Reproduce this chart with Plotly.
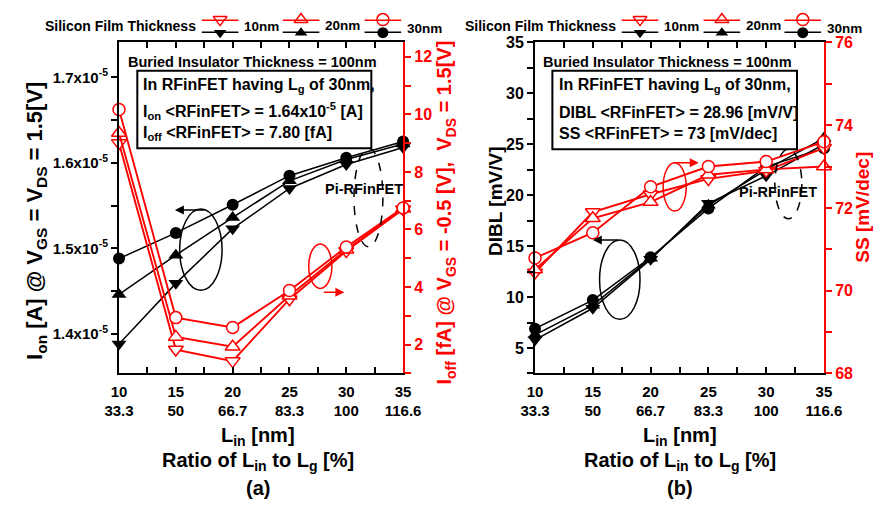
import plotly.graph_objects as go

W, H = 893, 513
FONT = "Liberation Sans, Arial, sans-serif"
RED = "#ff0000"

# ---- data -------------------------------------------------------------
l_in = [10, 15, 20, 25, 30, 35]                       # L_in [nm]
ratio_labels = ["33.3", "50", "66.7", "83.3", "100", "116.6"]  # L_in / L_g [%]

# (a) on-current [A] and off-current [fA]
ion_10nm = [1.388e-5, 1.459e-5, 1.523e-5, 1.570e-5, 1.598e-5, 1.618e-5]
ion_20nm = [1.446e-5, 1.492e-5, 1.536e-5, 1.579e-5, 1.604e-5, 1.622e-5]
ion_30nm = [1.488e-5, 1.518e-5, 1.551e-5, 1.585e-5, 1.606e-5, 1.625e-5]
ioff_10nm = [9.00, 1.83, 1.43, 3.58, 5.25, 6.70]
ioff_20nm = [9.35, 2.27, 1.93, 3.70, 5.30, 6.72]
ioff_30nm = [10.17, 2.94, 2.60, 3.88, 5.39, 6.75]

# (b) DIBL [mV/V] and subthreshold swing [mV/dec]
dibl_10nm = [5.8, 8.9, 13.7, 19.2, 21.9, 25.0]
dibl_20nm = [6.3, 9.2, 13.8, 19.0, 22.5, 25.6]
dibl_30nm = [6.9, 9.7, 13.9, 18.7, 22.8, 24.6]
ss_10nm = [70.44, 71.90, 72.33, 72.70, 72.90, 73.45]
ss_20nm = [70.51, 71.75, 72.14, 72.80, 72.93, 73.00]
ss_30nm = [70.79, 71.40, 72.51, 73.00, 73.12, 73.60]

thickness_labels = ["10nm", "20nm", "30nm"]
symbols = ["triangle-down", "triangle-up", "circle"]


def px(x):
    return x / W


def py(y):
    return 1 - y / H


fig = go.Figure()

series = [
    (ion_10nm, ioff_10nm, dibl_10nm, ss_10nm),
    (ion_20nm, ioff_20nm, dibl_20nm, ss_20nm),
    (ion_30nm, ioff_30nm, dibl_30nm, ss_30nm),
]

for (ion, ioff, dibl, ss), sym in zip(series, symbols):
    msize = 12 if sym == "circle" else 13
    black = dict(mode="lines+markers", line=dict(color="black", width=1.5),
                 marker=dict(symbol=sym, size=msize, color="black"),
                 cliponaxis=False, showlegend=False, hoverinfo="skip")
    red = dict(mode="lines+markers", line=dict(color=RED, width=1.9),
               marker=dict(symbol=sym, size=msize, color="white",
                           line=dict(color=RED, width=1.5)),
               cliponaxis=False, showlegend=False, hoverinfo="skip")
    fig.add_trace(go.Scatter(x=l_in, y=ion, xaxis="x", yaxis="y", **black))
    fig.add_trace(go.Scatter(x=l_in, y=ioff, xaxis="x", yaxis="y2", **red))
    fig.add_trace(go.Scatter(x=l_in, y=ss, xaxis="x2", yaxis="y4", **red))
    fig.add_trace(go.Scatter(x=l_in, y=dibl, xaxis="x2", yaxis="y3", **black))

# empty traces so the percentage label axes get drawn
fig.add_trace(go.Scatter(x=l_in, y=[None] * 6, xaxis="x3", yaxis="y",
                         showlegend=False, hoverinfo="skip"))
fig.add_trace(go.Scatter(x=l_in, y=[None] * 6, xaxis="x4", yaxis="y3",
                         showlegend=False, hoverinfo="skip"))

# ---- legend drawn on a full-page helper axis -----------------------------
legend_centres = {"a": [213, 297, 382], "b": [649, 734, 818]}
for side, centres in legend_centres.items():
    for cx, sym in zip(centres, symbols):
        fig.add_shape(type="line", xref="paper", yref="paper",
                      x0=px(cx - 19), x1=px(cx + 19), y0=py(12.7), y1=py(12.7),
                      line=dict(color=RED, width=1.5))
        fig.add_shape(type="line", xref="paper", yref="paper",
                      x0=px(cx - 19), x1=px(cx + 19), y0=py(25), y1=py(25),
                      line=dict(color="black", width=1.5))
        fig.add_trace(go.Scatter(x=[cx], y=[12], xaxis="x5", yaxis="y5", mode="markers",
                                 marker=dict(symbol=sym, size=12, color="white",
                                             line=dict(color=RED, width=1.5)),
                                 showlegend=False, hoverinfo="skip", cliponaxis=False))
        fig.add_trace(go.Scatter(x=[cx], y=[25.5], xaxis="x5", yaxis="y5", mode="markers",
                                 marker=dict(symbol=sym, size=11, color="black"),
                                 showlegend=False, hoverinfo="skip", cliponaxis=False))

# ---- axes ---------------------------------------------------------------
dom_ya = [py(378), py(35.5)]
dom_xa = [px(108), px(403)]
dom_xb = [px(540), px(840)]

xt = [10 + 2.5 * i for i in range(11)]
xt_text = [str(int(v)) if v % 5 == 0 else "" for v in xt]

tickfont = dict(family=FONT, size=15, color="black", weight="bold")
redfont = dict(family=FONT, size=16, color=RED, weight="bold")

base_x = dict(range=[10, 35], tickvals=xt, ticktext=xt_text, ticks="inside",
              ticklen=6, tickwidth=1.5, tickcolor="black", showline=True,
              linewidth=2, linecolor="black", mirror="ticks", showgrid=False,
              zeroline=False, tickfont=tickfont, ticklabelstandoff=4)
pct_x = dict(range=[10, 35], tickvals=l_in, ticktext=ratio_labels, ticks="",
             showline=False, showgrid=False, zeroline=False, side="bottom",
             tickfont=tickfont, ticklabelstandoff=27)

ion_ticks = [1.40e-5 + 0.05e-5 * i for i in range(7)]
ion_text = [("%.1fx10<sup>-5</sup>" % (v * 1e5)) if i % 2 == 0 else ""
            for i, v in enumerate(ion_ticks)]
ioff_ticks = list(range(1, 13))
ioff_text = [str(v) if v % 2 == 0 else "" for v in ioff_ticks]
dibl_ticks = [2.5 * i for i in range(1, 15)]
dibl_text = [str(int(v)) if v % 5 == 0 else "" for v in dibl_ticks]
ss_ticks = list(range(68, 77))
ss_text = [str(v) if v % 2 == 0 else "" for v in ss_ticks]

fig.update_layout(
    width=W, height=H, margin=dict(l=0, r=0, t=0, b=0),
    paper_bgcolor="white", plot_bgcolor="rgba(0,0,0,0)",
    font=dict(family=FONT, color="black"),
    xaxis=dict(domain=dom_xa, anchor="y", **base_x),
    xaxis3=dict(overlaying="x", anchor="y", **pct_x),
    xaxis2=dict(domain=dom_xb, anchor="y3", **base_x),
    xaxis4=dict(overlaying="x2", anchor="y3", **pct_x),
    yaxis=dict(domain=dom_ya, anchor="x", range=[1.3536e-5, 1.741e-5],
               tickvals=ion_ticks, ticktext=ion_text, ticks="outside", ticklen=6,
               tickwidth=1.5, tickcolor="black", showline=True, linewidth=2,
               linecolor="black", showgrid=False, zeroline=False, tickfont=tickfont),
    yaxis2=dict(overlaying="y", side="right", anchor="x", range=[1.0, 12.5],
                tickvals=ioff_ticks, ticktext=ioff_text, ticks="outside", ticklen=6,
                tickwidth=1.5, tickcolor=RED, showline=True, linewidth=2,
                linecolor=RED, showgrid=False, zeroline=False, tickfont=redfont),
    yaxis3=dict(domain=dom_ya, anchor="x2", range=[2.5, 35],
                tickvals=dibl_ticks, ticktext=dibl_text, ticks="outside", ticklen=6,
                tickwidth=1.5, tickcolor="black", showline=True, linewidth=2,
                linecolor="black", showgrid=False, zeroline=False,
                tickfont=dict(family=FONT, size=16, color="black", weight="bold")),
    yaxis4=dict(overlaying="y3", side="right", anchor="x2", range=[68, 76],
                tickvals=ss_ticks, ticktext=ss_text, ticks="outside", ticklen=6,
                tickwidth=1.5, tickcolor=RED, showline=True, linewidth=2,
                linecolor=RED, showgrid=False, zeroline=False, tickfont=redfont),
    xaxis5=dict(domain=[0, 1], range=[0, W], visible=False, anchor="y5"),
    yaxis5=dict(domain=[0, 1], range=[H, 0], visible=False, anchor="x5"),
)

# ---- text ---------------------------------------------------------------
def label(text, x, y, size, color="black", xanchor="center", angle=0):
    fig.add_annotation(text=text, x=px(x), y=py(y), xref="paper", yref="paper",
                       xanchor=xanchor, yanchor="middle", showarrow=False,
                       textangle=angle, borderpad=0,
                       align="left" if xanchor == "left" else "center",
                       font=dict(family=FONT, size=size, color=color, weight="bold"))


# legend texts
for cx_head, centres in ((110, legend_centres["a"]), (546, legend_centres["b"])):
    label("Silicon Film Thickness", cx_head, 19, 14)
    for cx, name, dy in zip(centres, thickness_labels, (19, 18, 21)):
        label(name, cx + 24, dy, 13.5, xanchor="left")

# axis titles
label("I<sub>on</sub> [A] @ V<sub>GS</sub> = V<sub>DS</sub> = 1.5[V]", 22, 220, 22, angle=-90)
label("I<sub>off</sub> [fA] @ V<sub>GS</sub> = -0.5 [V], &nbsp;V<sub>DS</sub> = 1.5[V]",
      447, 211, 20, color=RED, angle=-90)
label("DIBL [mV/V]", 499, 200, 19, angle=-90)
label("SS [mV/dec]", 880, 206, 19, color=RED, angle=-90)
for cx, tag in ((252, "(a)"), (690, "(b)")):
    label("L<sub>in</sub> [nm]", cx, 443, 20)
    label("Ratio of L<sub>in</sub> to L<sub>g</sub> [%]", cx, 469, 20)
    label(tag, cx, 496, 20)

# info boxes
label("Buried Insulator Thickness = 100nm", 247, 56, 14.5)
label("Buried Insulator Thickness = 100nm", 678, 56, 14.5)
fig.add_shape(type="rect", xref="paper", yref="paper", x0=px(127), x1=px(370),
              y0=py(145), y1=py(65), line=dict(color="black", width=2))
fig.add_shape(type="rect", xref="paper", yref="paper", x0=px(558), x1=px(812),
              y0=py(146), y1=py(65), line=dict(color="black", width=2))
label("In RFinFET having L<sub>g</sub> of 30nm,", 132, 80, 16, xanchor="left")
label("I<sub>on</sub> &lt;RFinFET&gt; = 1.64x10<sup>-5</sup> [A]", 132, 107, 16, xanchor="left")
label("I<sub>off</sub> &lt;RFinFET&gt; = 7.80 [fA]", 132, 130, 16, xanchor="left")
label("In RFinFET having L<sub>g</sub> of 30nm,", 564, 80, 16, xanchor="left")
label("DIBL &lt;RFinFET&gt; = 28.96 [mV/V]", 564, 108, 16, xanchor="left")
label("SS &lt;RFinFET&gt; = 73 [mV/dec]", 564, 130, 16, xanchor="left")

# Pi-RFinFET markers
label("Pi-RFinFET", 362, 187, 14.5)
label("Pi-RFinFET", 792, 190, 14.5)


def ellipse(cx, cy, hw, hh, color, dash="solid"):
    fig.add_shape(type="circle", xref="paper", yref="paper",
                  x0=px(cx - hw), x1=px(cx + hw), y0=py(cy + hh), y1=py(cy - hh),
                  line=dict(color=color, width=1.5, dash=dash))


def arrow(x_tail, y_tail, x_head, y_head, color):
    fig.add_annotation(x=px(x_head), y=py(y_head), xref="paper", yref="paper",
                       ax=x_tail - x_head, ay=y_tail - y_head, axref="pixel", ayref="pixel",
                       text="", showarrow=True, arrowhead=2, arrowsize=1.2,
                       arrowwidth=1.5, arrowcolor=color)


ellipse(193, 250, 22, 42, "black")
arrow(197, 209, 166, 209, "black")
ellipse(317, 267, 12, 23, RED)
arrow(320, 294, 342, 294, RED)
ellipse(367, 196, 15, 51, "black", dash="dash")

ellipse(628, 281, 21, 41, "black")
arrow(627, 240, 600, 240, "black")
ellipse(685, 185, 12, 25, RED)
arrow(685, 160, 710, 160, RED)
ellipse(803, 182, 14, 36, "black", dash="dash")

fig.write_html("out.html")
